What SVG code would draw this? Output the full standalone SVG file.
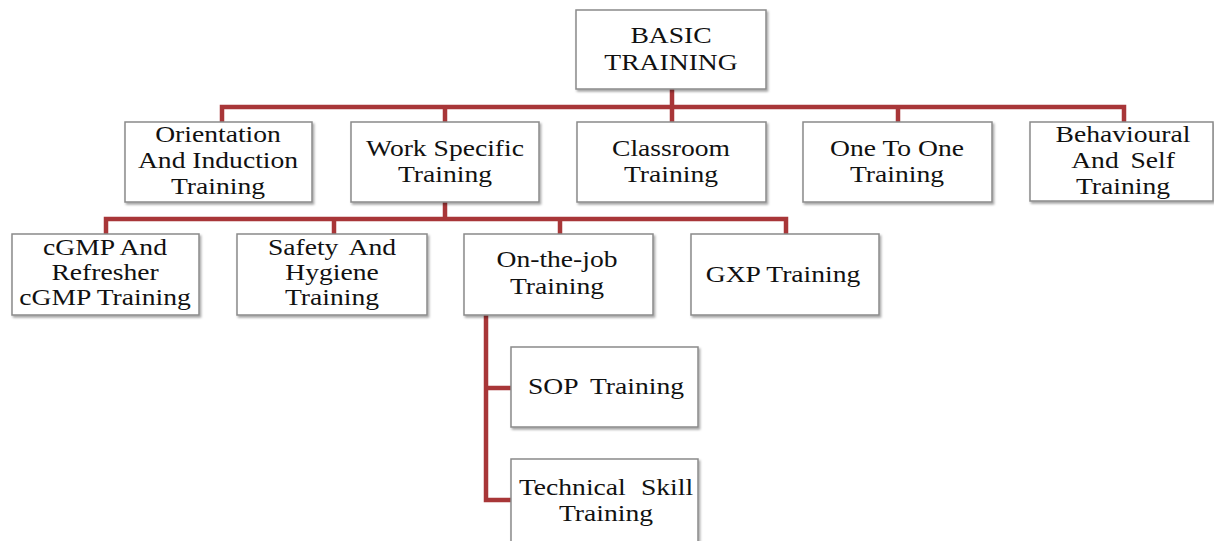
<svg xmlns="http://www.w3.org/2000/svg" width="1214" height="541" viewBox="0 0 1214 541">
<defs>
<filter id="sh" x="-5%" y="-5%" width="115%" height="120%">
<feDropShadow dx="1.5" dy="2" stdDeviation="1.2" flood-color="#000" flood-opacity="0.35"/>
</filter>
<style>
.box{fill:#fff;stroke:#8a8a8a;stroke-width:1.5;filter:url(#sh)}
.t{font-family:"Liberation Serif","Times New Roman",serif;font-size:23px;fill:#111;text-anchor:middle}
.c{fill:none;stroke:#a83638;stroke-width:4.5;stroke-linejoin:miter;stroke-linecap:butt}
</style>
</defs>
<rect width="1214" height="541" fill="#fff"/>
<g id="connectors">
<path class="c" d="M672 89V107M222 122V107H1124V122M445 107V122M672 107V122M898 107V122"/>
<path class="c" d="M445 202V219M106 234V219H786V234M334 219V234M560 219V234"/>
<path class="c" d="M486 315V500H511M486 388H511"/>
</g>
<g id="basic">
<rect class="box" x="576" y="10" width="190" height="79"/>
<text class="t" transform="translate(671,0) scale(1.2,1)" x="0" y="43">BASIC</text>
<text class="t" transform="translate(671,0) scale(1.2,1)" x="0" y="70">TRAINING</text>
</g>
<g id="orientation">
<rect class="box" x="125" y="122" width="187" height="80"/>
<text class="t" transform="translate(218,0) scale(1.2,1)" x="0" y="142">Orientation</text>
<text class="t" transform="translate(218,0) scale(1.2,1)" x="0" y="168">And Induction</text>
<text class="t" transform="translate(218,0) scale(1.2,1)" x="0" y="194">Training</text>
</g>
<g id="workspecific">
<rect class="box" x="351" y="122" width="188" height="80"/>
<text class="t" transform="translate(445,0) scale(1.2,1)" x="0" y="156">Work Specific</text>
<text class="t" transform="translate(445,0) scale(1.2,1)" x="0" y="182">Training</text>
</g>
<g id="classroom">
<rect class="box" x="577" y="122" width="189" height="80"/>
<text class="t" transform="translate(671,0) scale(1.2,1)" x="0" y="156">Classroom</text>
<text class="t" transform="translate(671,0) scale(1.2,1)" x="0" y="182">Training</text>
</g>
<g id="onetoone">
<rect class="box" x="803" y="122" width="189" height="80"/>
<text class="t" transform="translate(897,0) scale(1.2,1)" x="0" y="156">One To One</text>
<text class="t" transform="translate(897,0) scale(1.2,1)" x="0" y="182">Training</text>
</g>
<g id="behavioural">
<rect class="box" x="1030" y="122" width="183" height="79"/>
<text class="t" transform="translate(1123,0) scale(1.2,1)" x="0" y="142">Behavioural</text>
<text class="t" transform="translate(1123,0) scale(1.2,1)" x="0" y="168" word-spacing="4">And Self</text>
<text class="t" transform="translate(1123,0) scale(1.2,1)" x="0" y="194">Training</text>
</g>
<g id="cgmp">
<rect class="box" x="12" y="234" width="187" height="81"/>
<text class="t" transform="translate(105,0) scale(1.2,1)" x="0" y="255">cGMP And</text>
<text class="t" transform="translate(105,0) scale(1.2,1)" x="0" y="280">Refresher</text>
<text class="t" transform="translate(105,0) scale(1.2,1)" x="0" y="305">cGMP Training</text>
</g>
<g id="safety">
<rect class="box" x="237" y="234" width="190" height="81"/>
<text class="t" transform="translate(332,0) scale(1.2,1)" x="0" y="255" word-spacing="4">Safety And</text>
<text class="t" transform="translate(332,0) scale(1.2,1)" x="0" y="280">Hygiene</text>
<text class="t" transform="translate(332,0) scale(1.2,1)" x="0" y="305">Training</text>
</g>
<g id="onthejob">
<rect class="box" x="464" y="234" width="189" height="81"/>
<text class="t" transform="translate(557,0) scale(1.2,1)" x="0" y="267">On-the-job</text>
<text class="t" transform="translate(557,0) scale(1.2,1)" x="0" y="294">Training</text>
</g>
<g id="gxp">
<rect class="box" x="691" y="234" width="188" height="81"/>
<text class="t" transform="translate(783,0) scale(1.2,1)" x="0" y="282">GXP Training</text>
</g>
<g id="sop">
<rect class="box" x="511" y="347" width="187" height="80"/>
<text class="t" transform="translate(606,0) scale(1.2,1)" x="0" y="394" word-spacing="5">SOP Training</text>
</g>
<g id="technical">
<rect class="box" x="511" y="459" width="187" height="85"/>
<text class="t" transform="translate(606,0) scale(1.2,1)" x="0" y="495" word-spacing="7">Technical Skill</text>
<text class="t" transform="translate(606,0) scale(1.2,1)" x="0" y="521">Training</text>
</g>
</svg>
